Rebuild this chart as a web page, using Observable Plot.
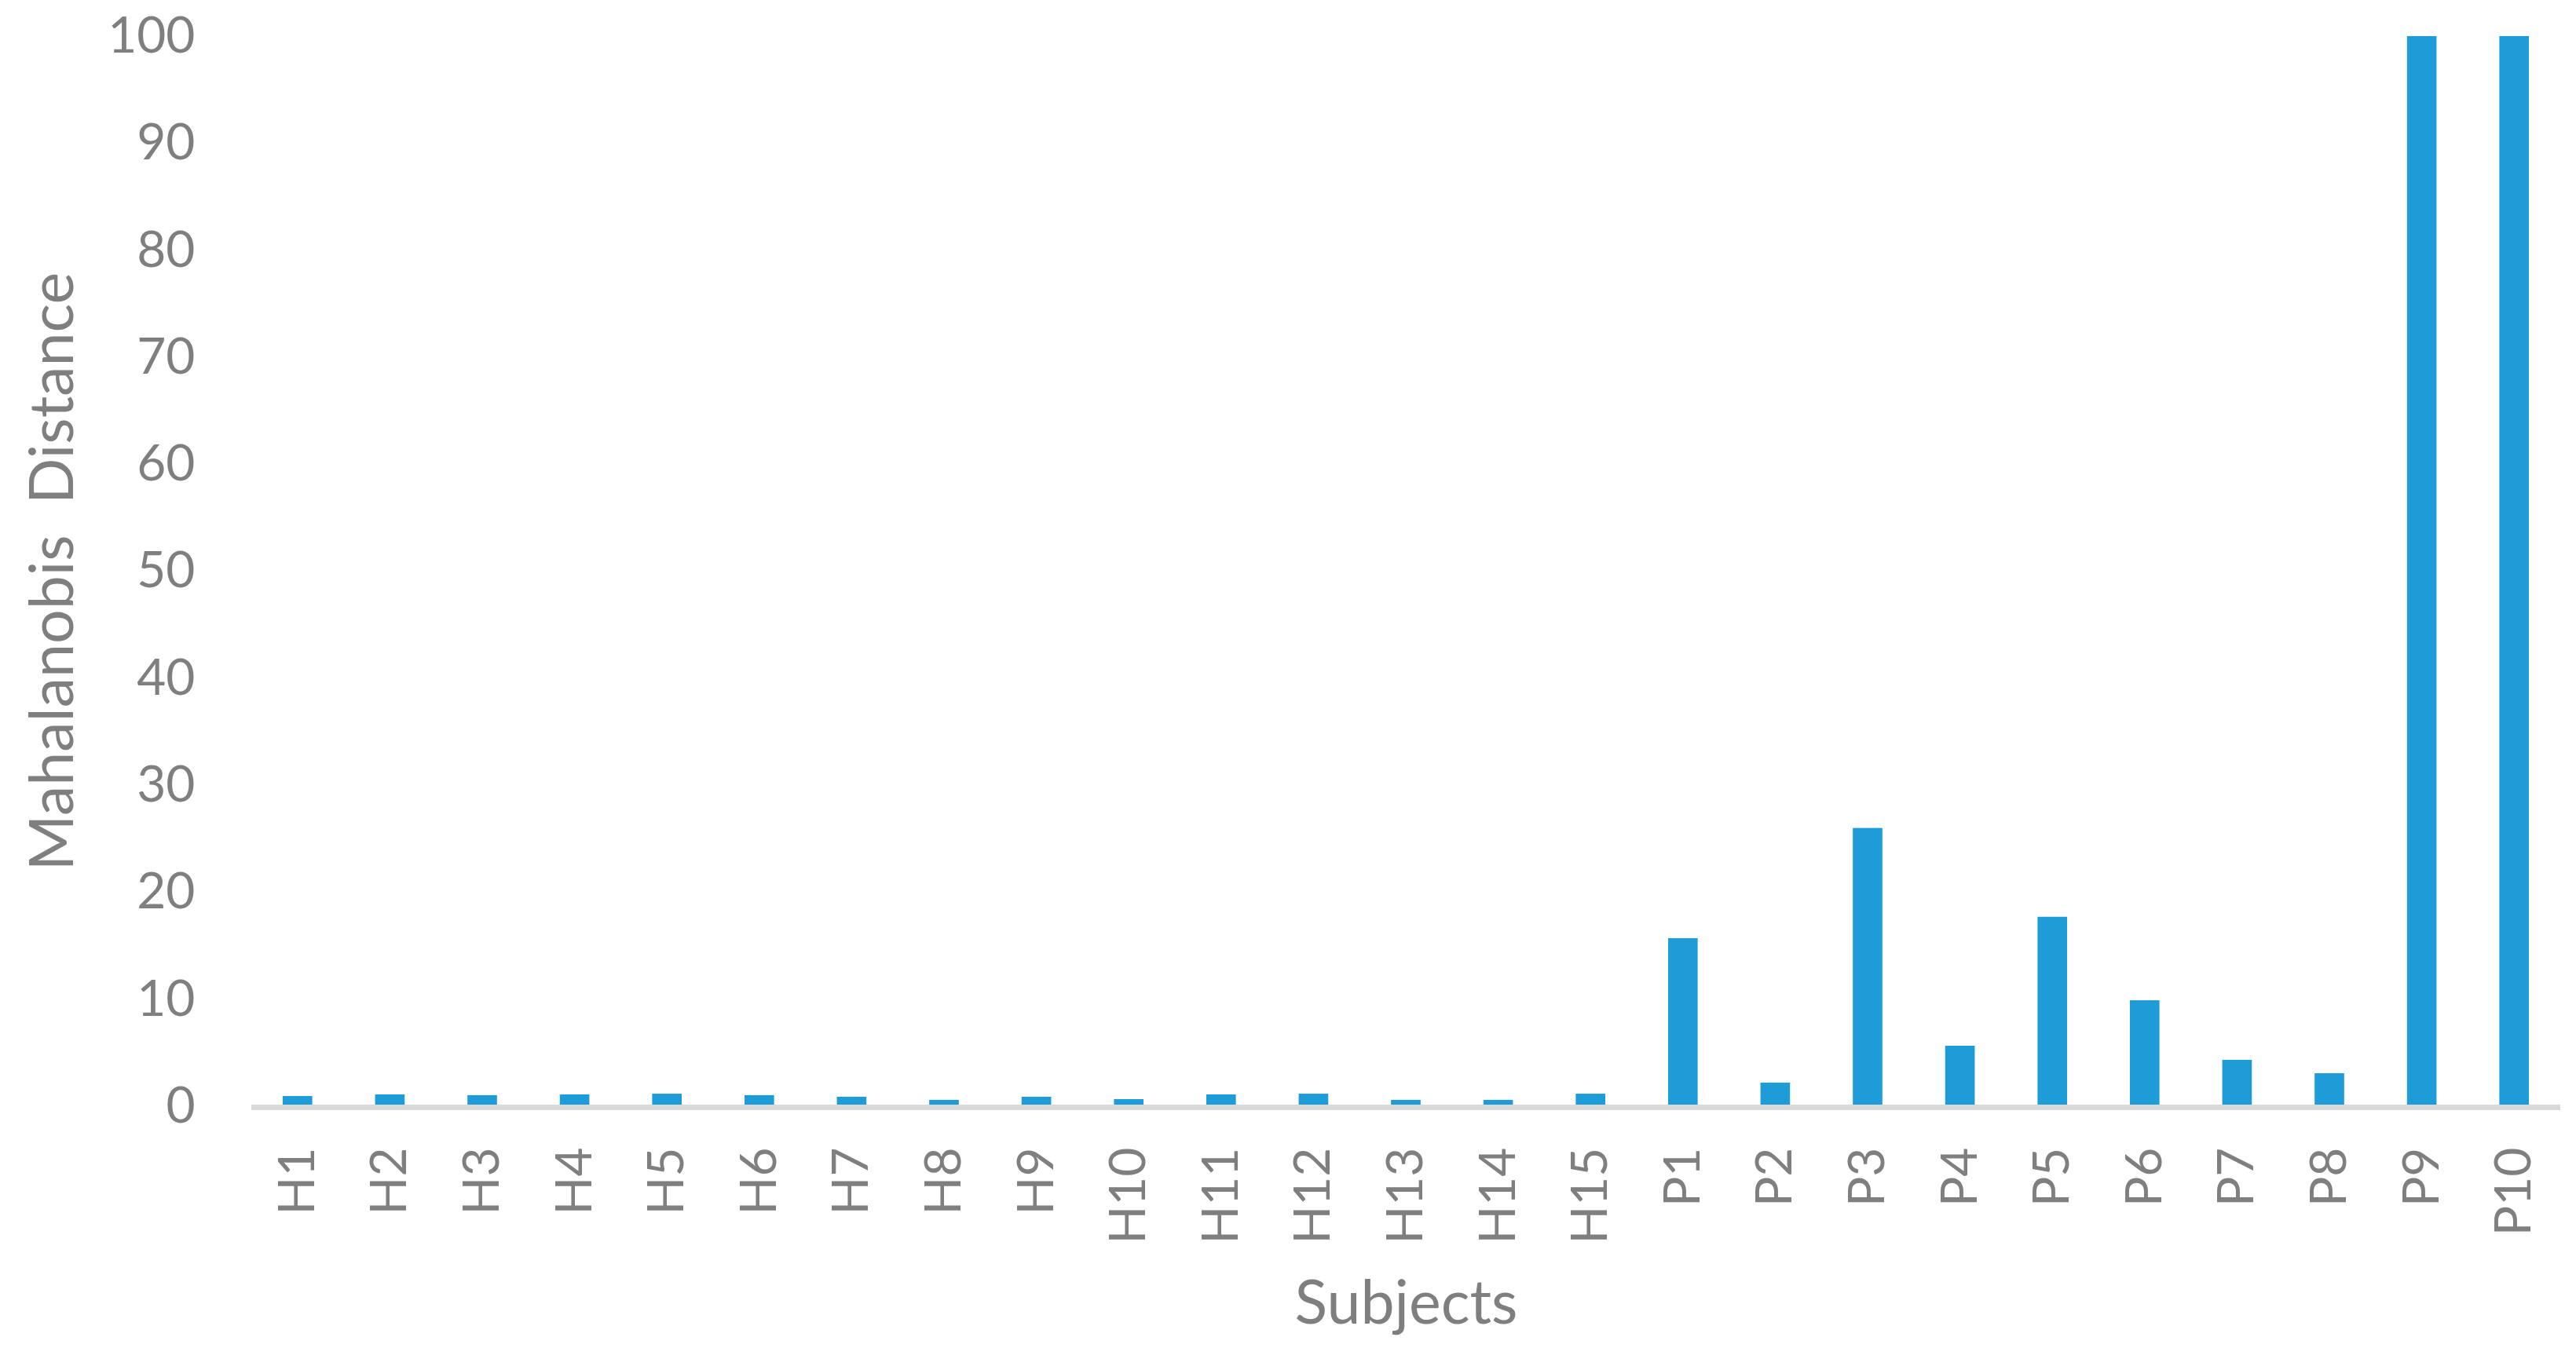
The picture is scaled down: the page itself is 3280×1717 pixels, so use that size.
<!DOCTYPE html>
<html>
<head>
<meta charset="utf-8">
<script src="https://cdn.jsdelivr.net/npm/d3@7"></script>
<script src="https://cdn.jsdelivr.net/npm/@observablehq/plot@0.6"></script>
<style>
  html, body { margin: 0; padding: 0; background: #ffffff; }
  #chart svg [aria-label="x-axis label"] text,
  #chart svg [aria-label="y-axis label"] text { font-size: 77px; }
</style>
</head>
<body>
<div id="chart"></div>
<script>
const subjects = ["H1","H2","H3","H4","H5","H6","H7","H8","H9","H10","H11","H12","H13","H14","H15",
                  "P1","P2","P3","P4","P5","P6","P7","P8","P9","P10"];
const distances = [0.95,1.1,1.03,1.1,1.17,1.03,0.88,0.59,0.88,0.66,1.1,1.17,0.59,0.59,1.17,
                   15.7,2.2,26.0,5.65,17.7,9.9,4.33,3.08,100,100];
const yTicks = [0,10,20,30,40,50,60,70,80,90,100];

const data = subjects.map((s, i) => ({subject: s, distance: distances[i]}));

const chart = Plot.plot({
  width: 3280,
  height: 1717,
  marginLeft: 320,
  marginRight: 20,
  marginTop: 46,
  marginBottom: 308,
  style: {fontFamily: "Lato, sans-serif", fontSize: "64px", color: "#7f7f7f", background: "#ffffff"},
  x: {domain: subjects, paddingInner: 0.68, paddingOuter: 0.34, round: false, label: "Subjects"},
  y: {domain: [0, 100], clamp: true, label: "Mahalanobis  Distance"},
  marks: [
    Plot.barY(data, {x: "subject", y: "distance", fill: "#1e9cd8"}),
    Plot.ruleY([0], {stroke: "#d9d9d9", strokeWidth: 7, dy: 1}),
    Plot.axisY({ticks: yTicks, tickSize: 0, tickPadding: 72, label: "Mahalanobis  Distance",
                labelAnchor: "center", labelOffset: 282, labelArrow: "none", fill: "#7f7f7f"}),
    Plot.axisX({tickSize: 0, tickPadding: 52, tickRotate: -90, label: "Subjects",
                labelAnchor: "center", labelOffset: 276, labelArrow: "none", fill: "#7f7f7f"})
  ]
});
document.getElementById("chart").appendChild(chart);
</script>
</body>
</html>
